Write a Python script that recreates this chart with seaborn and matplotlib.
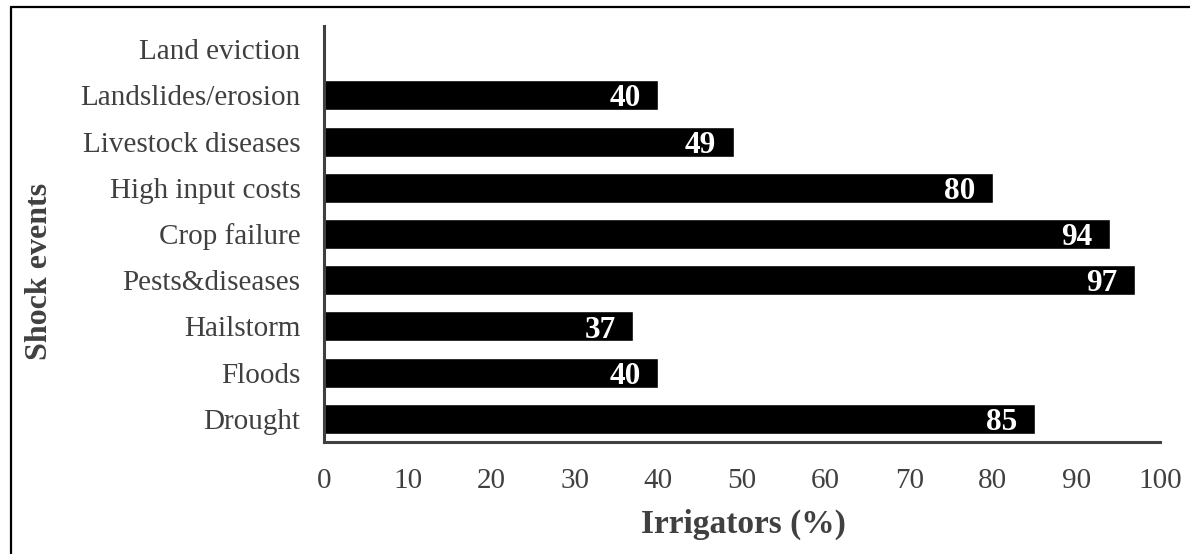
import matplotlib
matplotlib.use("Agg")
import matplotlib.pyplot as plt
import seaborn as sns
import pandas as pd
from matplotlib.lines import Line2D

categories = ["Land eviction", "Landslides/erosion", "Livestock diseases", "High input costs",
              "Crop failure", "Pests&diseases", "Hailstorm", "Floods", "Drought"]
values = [0, 40, 49, 80, 94, 97, 37, 40, 85]
xticks = [0, 10, 20, 30, 40, 50, 60, 70, 80, 90, 100]

sns.set_theme(style="white")
plt.rcParams['font.family'] = ['Liberation Serif', 'DejaVu Serif']

df = pd.DataFrame({"event": categories, "pct": values})

W, H = 1190, 554
fig = plt.figure(figsize=(W / 100, H / 100), dpi=100)
ax = fig.add_axes([324 / W, (H - 442) / H, (1160 - 324) / W, (442 - 26) / H])

sns.barplot(data=df, y="event", x="pct", orient="h", color="black",
            width=0.65, saturation=1, ax=ax, order=categories)

ax.set_xlim(0, 100)
ax.set_ylim(len(categories) - 0.5, -0.5)
ax.set_xticks(xticks)
ax.set_xticklabels([str(t) for t in xticks])
ax.tick_params(axis="both", length=0, labelsize=21, colors="#404040")
ax.tick_params(axis="x", pad=18.5)
ax.tick_params(axis="y", pad=17)
for lab in ax.get_xticklabels() + ax.get_yticklabels():
    lab.set_color("#404040")

ax.set_xlabel("")
ax.set_ylabel("")
fig.text(743 / W, (H - 533) / H, "Irrigators (%)", fontsize=24, fontweight="bold",
         color="#404040", ha="center", va="baseline")
fig.text(40 / W, 1 - 271 / H, "Shock events", fontsize=23, fontweight="bold",
         color="#404040", ha="center", va="center", rotation=90)

for s in ["top", "right"]:
    ax.spines[s].set_visible(False)
for s in ["left", "bottom"]:
    ax.spines[s].set_color("#404040")
    ax.spines[s].set_linewidth(2.2)

for i, v in enumerate(values):
    if v > 0:
        ax.annotate(str(v), xy=(v, i), xytext=(-12.5, -8), textcoords="offset points",
                    ha="right", va="baseline", color="white",
                    fontsize=22.5, fontweight="bold")

fig.add_artist(Line2D([11 / W, 11 / W], [0, 1 - 6.5 / H], transform=fig.transFigure,
                      color="black", lw=1.6))
fig.add_artist(Line2D([11 / W, 1.0], [1 - 6.5 / H, 1 - 6.5 / H], transform=fig.transFigure,
                      color="black", lw=1.6))

fig.savefig("out.png", dpi=100, facecolor="white")
